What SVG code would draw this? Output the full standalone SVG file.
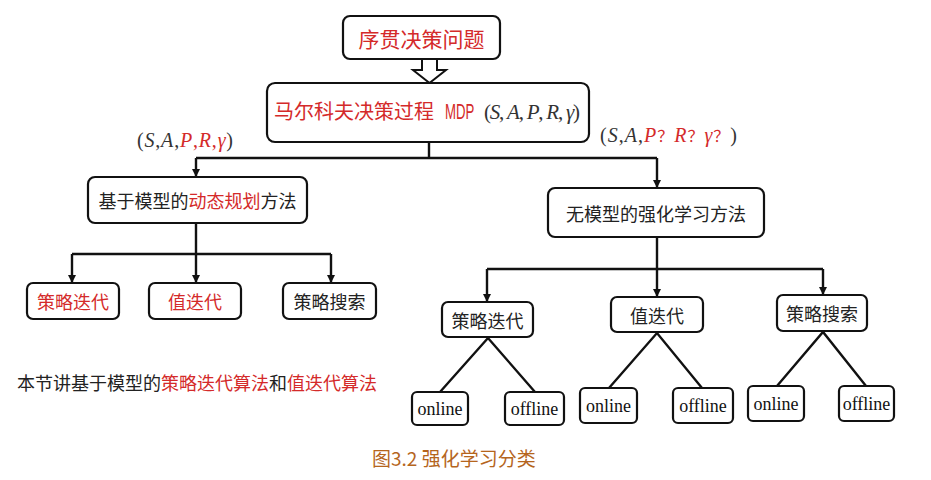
<svg xmlns="http://www.w3.org/2000/svg" width="931" height="480" viewBox="0 0 931 480">
<style>
.box{fill:#fff;stroke:#111;stroke-width:2.2}
.cn{font-family:"Noto Sans CJK SC","Noto Sans",sans-serif;fill:#222;dominant-baseline:central;text-anchor:middle}
.red{fill:#d42a2a}
.m{font-family:"Liberation Serif","DejaVu Serif",serif;fill:#333}
.it{font-style:italic}
.en{font-family:"Liberation Serif",serif;font-size:18px;fill:#111;dominant-baseline:central;text-anchor:middle}
.ln{fill:none;stroke:#111;stroke-width:2.4}
</style>
<defs>
<marker id="ah" viewBox="0 0 10 10" refX="10" refY="5" markerWidth="8" markerHeight="8" markerUnits="userSpaceOnUse" orient="auto">
<path d="M0,0 L10,5 L0,10 z" fill="#111"/>
</marker>
</defs>
<rect width="931" height="480" fill="#fff"/>

<g id="connectors">
<polygon points="422,59 437,59 437,70 446,70 429.5,83 413,70 422,70" fill="#fff" stroke="#111" stroke-width="2"/>
<path class="ln" d="M429,142 V158 M196,158 H657"/>
<path class="ln" d="M196,158 V177" marker-end="url(#ah)"/>
<path class="ln" d="M657,158 V188" marker-end="url(#ah)"/>
<path class="ln" d="M196,223 V254 M72,254 H331"/>
<path class="ln" d="M72,254 V283" marker-end="url(#ah)"/>
<path class="ln" d="M196,254 V283" marker-end="url(#ah)"/>
<path class="ln" d="M331,254 V283" marker-end="url(#ah)"/>
<path class="ln" d="M657,237 V269 M487,269 H823"/>
<path class="ln" d="M487,269 V302" marker-end="url(#ah)"/>
<path class="ln" d="M657,269 V297" marker-end="url(#ah)"/>
<path class="ln" d="M823,269 V295" marker-end="url(#ah)"/>
<path class="ln" d="M440,392 L488,338 L535,392"/>
<path class="ln" d="M609,388 L657,333 L702,388"/>
<path class="ln" d="M777,386 L823,332 L866,386"/>
</g>

<g id="n-seq">
<rect class="box" x="343" y="16" width="157" height="43" rx="7"/>
<text class="cn red" x="421.5" y="38" font-size="21">序贯决策问题</text>
</g>

<g id="n-mdp">
<rect class="box" x="267" y="83" width="322" height="59" rx="8"/>
<text x="274" y="119" font-size="20" font-family="Noto Sans CJK SC,sans-serif" fill="#d42a2a">马尔科夫决策过程</text>
<text transform="translate(445,119) scale(0.6,1)" x="0" y="0" font-size="22" font-family="Liberation Sans,sans-serif" fill="#d42a2a">MDP</text>
<text class="m" x="484" y="119" font-size="21" textLength="96" lengthAdjust="spacing">(<tspan class="it">S</tspan>, <tspan class="it">A</tspan>, <tspan class="it">P</tspan>, <tspan class="it">R</tspan>, <tspan class="it">γ</tspan>)</text>
</g>

<text id="lbl-left" class="m" x="137" y="147" font-size="20" textLength="96" lengthAdjust="spacing">(<tspan class="it">S</tspan>,<tspan class="it">A</tspan>,<tspan class="it" fill="#d42a2a">P</tspan><tspan fill="#d42a2a">,</tspan><tspan class="it" fill="#d42a2a">R</tspan><tspan fill="#d42a2a">,</tspan><tspan class="it" fill="#d42a2a">γ</tspan>)</text>
<text id="lbl-right" class="m" x="600" y="142" font-size="20" textLength="137" lengthAdjust="spacing">(<tspan class="it">S</tspan>,<tspan class="it">A</tspan>,<tspan fill="#d42a2a"><tspan class="it">P</tspan><tspan font-family="Noto Sans CJK SC,sans-serif" font-size="16">？</tspan><tspan class="it">R</tspan><tspan font-family="Noto Sans CJK SC,sans-serif" font-size="16">？</tspan><tspan class="it">γ</tspan><tspan font-family="Noto Sans CJK SC,sans-serif" font-size="16">？</tspan></tspan>)</text>

<g id="n-model">
<rect class="box" x="88" y="177" width="219" height="46" rx="7"/>
<text class="cn" x="197.5" y="200" font-size="18">基于模型的<tspan class="red">动态规划</tspan>方法</text>
</g>

<g id="n-free">
<rect class="box" x="548" y="188" width="216" height="49" rx="7"/>
<text class="cn" x="656" y="212.5" font-size="18">无模型的强化学习方法</text>
</g>

<g id="n-l1">
<rect class="box" x="27" y="283" width="92" height="36" rx="6"/>
<text class="cn red" x="73" y="301" font-size="18">策略迭代</text>
</g>
<g id="n-l2">
<rect class="box" x="149" y="283" width="92" height="36" rx="6"/>
<text class="cn red" x="195" y="301" font-size="18">值迭代</text>
</g>
<g id="n-l3">
<rect class="box" x="283" y="283" width="93" height="36" rx="6"/>
<text class="cn" x="329.5" y="301" font-size="18">策略搜索</text>
</g>

<text id="note" class="cn" x="17" y="382" font-size="18" style="text-anchor:start">本节讲基于模型的<tspan class="red">策略迭代算法</tspan>和<tspan class="red">值迭代算法</tspan></text>

<g id="n-r1">
<rect class="box" x="442" y="302" width="91" height="35" rx="6"/>
<text class="cn" x="487.5" y="319.5" font-size="18">策略迭代</text>
</g>
<g id="n-r2">
<rect class="box" x="611" y="297" width="92" height="35" rx="6"/>
<text class="cn" x="657" y="314.5" font-size="18">值迭代</text>
</g>
<g id="n-r3">
<rect class="box" x="777" y="295" width="90" height="36" rx="6"/>
<text class="cn" x="822" y="313" font-size="18">策略搜索</text>
</g>

<g id="n-on1"><rect class="box" x="412" y="392" width="56" height="33" rx="5"/><text class="en" x="440" y="408.5">online</text></g>
<g id="n-off1"><rect class="box" x="505" y="392" width="59" height="33" rx="5"/><text class="en" x="534.5" y="408.5">offline</text></g>
<g id="n-on2"><rect class="box" x="580" y="388" width="57" height="35" rx="5"/><text class="en" x="608.5" y="405.5">online</text></g>
<g id="n-off2"><rect class="box" x="673" y="388" width="60" height="35" rx="5"/><text class="en" x="703" y="405.5">offline</text></g>
<g id="n-on3"><rect class="box" x="748" y="386" width="56" height="35" rx="5"/><text class="en" x="776" y="403.5">online</text></g>
<g id="n-off3"><rect class="box" x="839" y="386" width="55" height="35" rx="5"/><text class="en" x="866.5" y="403.5">offline</text></g>

<text id="caption" x="372" y="466" font-family="Noto Sans CJK SC,sans-serif" font-size="19" fill="#b5651d">图3.2 强化学习分类</text>
</svg>
